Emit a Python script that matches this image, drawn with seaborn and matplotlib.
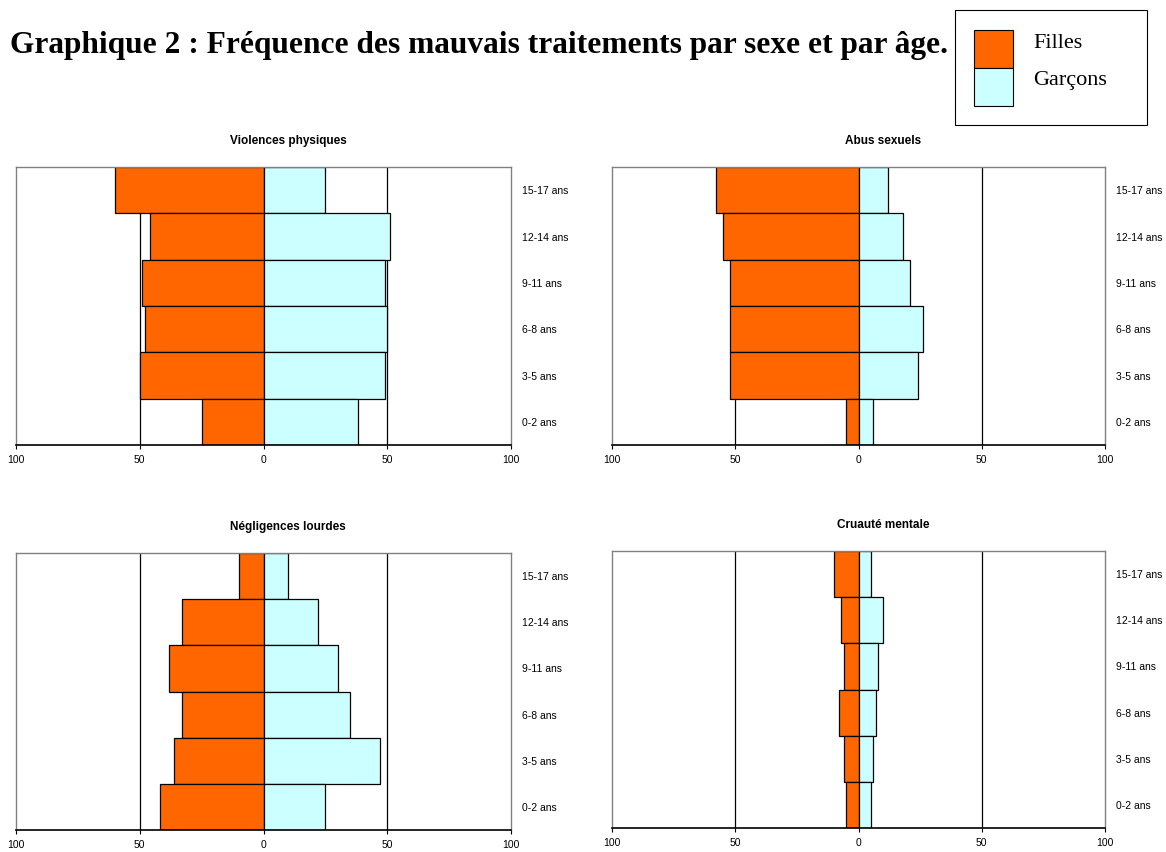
# Graphique 2 : pyramides des mauvais traitements par sexe et par âge
import seaborn as sns
import matplotlib.pyplot as plt
import matplotlib.patches as mpatches
import pandas as pd

# Tranches d'âge (du bas vers le haut)
ages = ["0-2 ans", "3-5 ans", "6-8 ans", "9-11 ans", "12-14 ans", "15-17 ans"]
titres = ["Violences physiques", "Abus sexuels", "Négligences lourdes", "Cruauté mentale"]

# Valeurs (0-2 ans -> 15-17 ans)
filles_violences = [25, 50, 48, 49, 46, 60]
garcons_violences = [38, 49, 50, 49, 51, 25]
filles_abus = [5, 52, 52, 52, 55, 58]
garcons_abus = [6, 24, 26, 21, 18, 12]
filles_negligences = [42, 36, 33, 38, 33, 10]
garcons_negligences = [25, 47, 35, 30, 22, 10]
filles_cruaute = [5, 6, 8, 6, 7, 10]
garcons_cruaute = [5, 6, 7, 8, 10, 5]

filles = [filles_violences, filles_abus, filles_negligences, filles_cruaute]
garcons = [garcons_violences, garcons_abus, garcons_negligences, garcons_cruaute]

couleurs = {"Filles": "#FF6600", "Garçons": "#CCFFFF"}

sns.set_style("white")
plt.rcParams["font.family"] = ["Liberation Sans", "DejaVu Sans"]
plt.rcParams["text.color"] = "black"
plt.rcParams["xtick.color"] = "black"
plt.rcParams["ytick.color"] = "black"

fig = plt.figure(figsize=(11.66, 8.52), dpi=100)

W, H = 1166, 852
# position des panneaux en pixels : (gauche, haut, droite, bas)
boites = [(16, 167, 511, 445), (612, 167, 1105, 445),
          (16, 553, 511, 830), (612, 551, 1105, 828)]

ordre = ages[::-1]
for i, titre in enumerate(titres):
    g, h, d, b = boites[i]
    ax = fig.add_axes([g / W, 1 - b / H, (d - g) / W, (b - h) / H])
    df = pd.DataFrame({
        "age": ages * 2,
        "sexe": ["Filles"] * 6 + ["Garçons"] * 6,
        "valeur": [-v for v in filles[i]] + list(garcons[i]),
    })
    for x in (-50, 50):
        ax.axvline(x, color="black", lw=0.9, zorder=0)
    sns.barplot(data=df, y="age", x="valeur", hue="sexe", order=ordre,
                orient="h", dodge=False, width=1.0, palette=couleurs,
                saturation=1, edgecolor="black", linewidth=0.9,
                legend=False, ax=ax, zorder=2)
    ax.set_xlim(-100, 100)
    ax.set_ylim(5.5, -0.5)
    ax.set_xticks([-100, -50, 0, 50, 100])
    ax.set_xticklabels(["100", "50", "0", "50", "100"], fontsize=7.5)
    ax.yaxis.tick_right()
    ax.tick_params(axis="y", length=0, pad=8, labelsize=7.5)
    ax.tick_params(axis="x", length=3, pad=4, direction="out", bottom=True)
    ax.set_xlabel("")
    ax.set_ylabel("")
    for s in ("left", "top", "right"):
        ax.spines[s].set_color("#808080")
        ax.spines[s].set_linewidth(1.0)
    ax.spines["bottom"].set_color("black")
    ax.spines["bottom"].set_linewidth(1.2)
    ax.text(0.55, 1 + 26 / (b - h), titre, transform=ax.transAxes,
            ha="center", va="center", fontsize=8.5, fontweight="bold")

# Titre général
fig.text(948 / W, 1 - 45 / H,
         "Graphique 2 : Fréquence des mauvais traitements par sexe et par âge.",
         ha="right", va="center", fontsize=22.6, fontweight="bold",
         family=["Liberation Serif", "DejaVu Serif"])

# Légende dessinée à la main
fig.patches.append(mpatches.Rectangle((955 / W, 1 - 125 / H), 192 / W, 115 / H,
                                      transform=fig.transFigure, fill=False,
                                      edgecolor="black", lw=0.8))
fig.patches.append(mpatches.Rectangle((974 / W, 1 - 68 / H), 39 / W, 38 / H,
                                      transform=fig.transFigure,
                                      facecolor=couleurs["Filles"],
                                      edgecolor="black", lw=0.8))
fig.patches.append(mpatches.Rectangle((974 / W, 1 - 106 / H), 39 / W, 38 / H,
                                      transform=fig.transFigure,
                                      facecolor=couleurs["Garçons"],
                                      edgecolor="black", lw=0.8))
for texte, y in (("Filles", 44), ("Garçons", 80)):
    fig.text(1033 / W, 1 - y / H, texte, ha="left", va="center", fontsize=16,
             family=["Liberation Serif", "DejaVu Serif"])

plt.savefig("out.png", dpi=100)
